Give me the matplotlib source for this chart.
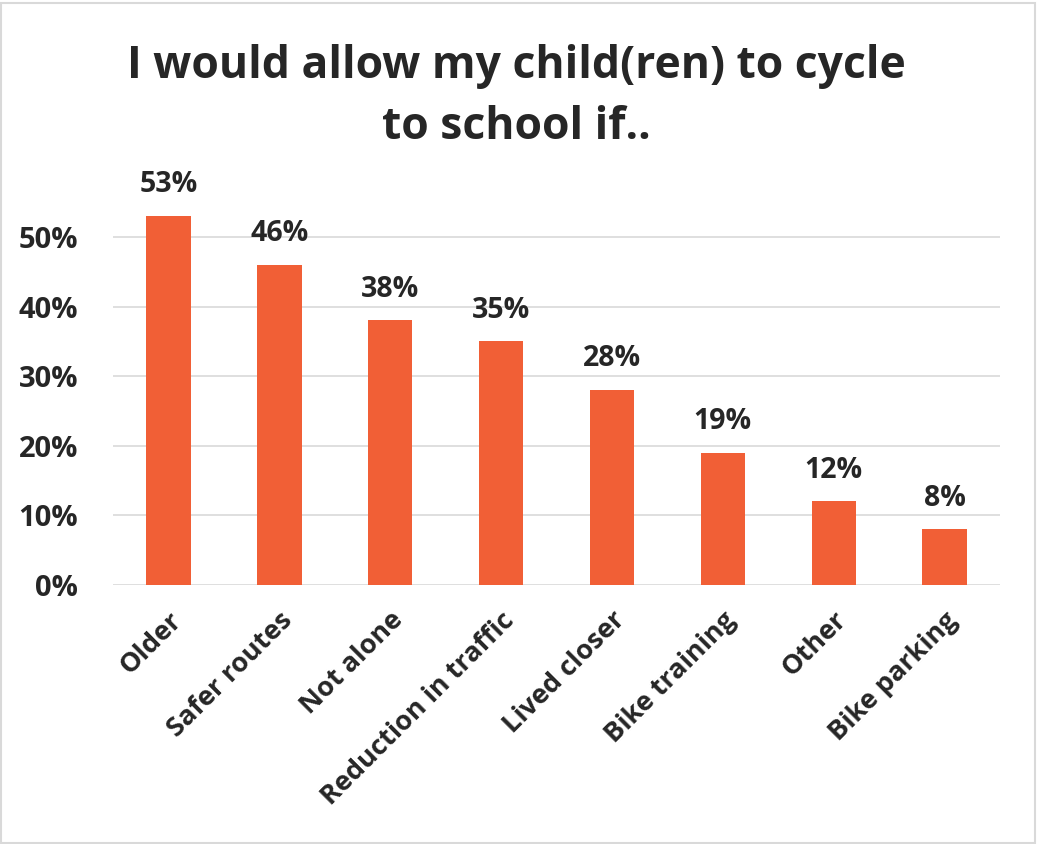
import matplotlib
matplotlib.use("Agg")
import matplotlib.pyplot as plt
from matplotlib.ticker import FuncFormatter
from matplotlib.patches import Rectangle

categories = ["Older", "Safer routes", "Not alone", "Reduction in traffic",
              "Lived closer", "Bike training", "Other", "Bike parking"]
values = [0.53, 0.46, 0.38, 0.35, 0.28, 0.19, 0.12, 0.08]
yticks = [0, 0.1, 0.2, 0.3, 0.4, 0.5]
title = "I would allow my child(ren) to cycle\nto school if.."

bar_color = "#F15F36"
text_color = "#262626"
plt.rcParams['font.family'] = ['Open Sans', 'DejaVu Sans']

fig = plt.figure(figsize=(10.38, 8.44), dpi=100)
ax = fig.add_axes([0.1089, 0.3069, 0.8545, 0.4948])
x = range(len(categories))
bars = ax.bar(x, values, width=0.4, color=bar_color, zorder=3)
ax.set_xlim(-0.5, len(categories) - 0.5)
ax.set_ylim(0, 0.6)
ax.set_yticks(yticks)
ax.yaxis.set_major_formatter(FuncFormatter(lambda v, p: f"{v*100:.0f}%"))
ax.grid(axis='y', color='#D9D9D9', linewidth=1.2, zorder=0)
for s in ax.spines.values():
    s.set_visible(False)
ax.tick_params(axis='both', length=0, labelsize=21, labelcolor=text_color)
ax.tick_params(axis='y', pad=25)
for lab in ax.get_yticklabels():
    lab.set_fontweight('bold')
ax.set_xticks(list(x))
ax.set_xticklabels(categories, rotation=45, ha='right', rotation_mode='anchor',
                   fontsize=19.5, fontweight='bold', color=text_color)
ax.tick_params(axis='x', pad=16)
for xi, v in zip(x, values):
    ax.annotate(f"{v*100:.0f}%", (xi, v), xytext=(0, 12), textcoords='offset points',
                ha='center', va='bottom', fontsize=20.5, fontweight='bold', color=text_color)

fig.text(0.497, 0.885, title, ha='center', va='center', fontsize=32, fontweight='bold',
         color=text_color, linespacing=1.45)
fig.patches.append(Rectangle((0.001, 0.001), 0.996, 0.995, transform=fig.transFigure,
                             fill=False, edgecolor='#D9D9D9', linewidth=1.5))
fig.savefig("out.png", dpi=100, facecolor='white')
